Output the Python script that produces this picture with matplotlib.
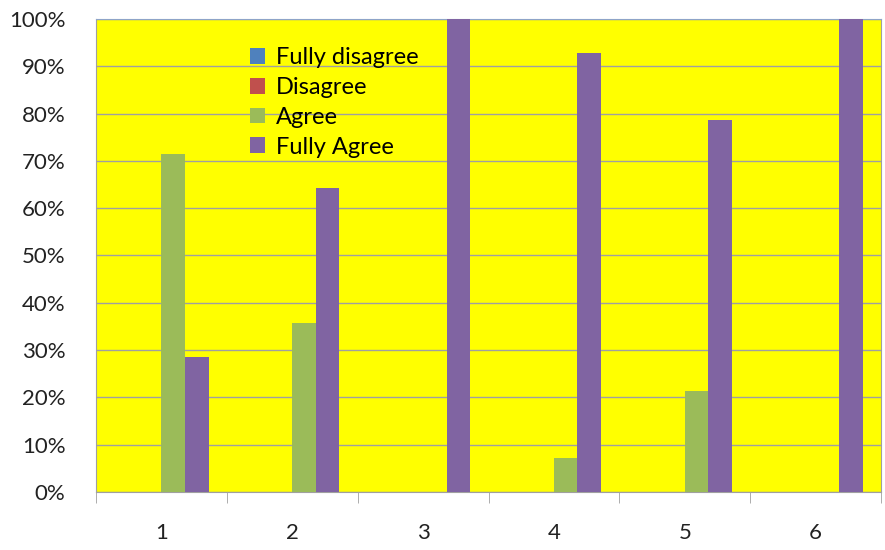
import matplotlib.pyplot as plt
import numpy as np
from matplotlib.ticker import FixedLocator, PercentFormatter

# Survey answers per question (share of respondents)
questions = ['1', '2', '3', '4', '5', '6']
series = ['Fully disagree', 'Disagree', 'Agree', 'Fully Agree']
fully_disagree = [0.0, 0.0, 0.0, 0.0, 0.0, 0.0]
disagree = [0.0, 0.0, 0.0, 0.0, 0.0, 0.0]
agree = [0.714, 0.357, 0.0, 0.071, 0.214, 0.0]
fully_agree = [0.286, 0.643, 1.0, 0.929, 0.786, 1.0]
colors = ['#4F81BD', '#C0504D', '#9BBB59', '#8064A2']

plt.rcParams['font.family'] = ['Lato', 'DejaVu Sans']

fig = plt.figure(figsize=(8.85, 5.5), dpi=100)
ax = fig.add_axes([0.1085, 0.1055, 0.887, 0.86])
ax.set_facecolor('#FFFF00')

x = np.arange(len(questions))
width = 0.18
values = [fully_disagree, disagree, agree, fully_agree]
for i, (name, vals) in enumerate(zip(series, values)):
    ax.bar(x + (i - 1.5) * width, vals, width, color=colors[i], label=name,
           zorder=3, edgecolor='none')

ax.set_xlim(-0.5, len(questions) - 0.5)
ax.set_ylim(0, 1)
ax.yaxis.set_major_locator(FixedLocator(np.arange(0, 1.01, 0.1)))
ax.yaxis.set_major_formatter(PercentFormatter(1.0, decimals=0))
ax.grid(axis='y', color='#A0A0A0', linewidth=1, zorder=1)

ax.set_xticks(x)
ax.set_xticklabels(questions)
ax.set_xticks(np.arange(-0.5, len(questions), 1), minor=True)
ax.tick_params(axis='x', which='major', length=0, pad=22, labelsize=16, colors='#222222')
ax.tick_params(axis='x', which='minor', length=8, direction='out', color='#A0A0A0')
ax.tick_params(axis='y', length=0, pad=22, labelsize=16, colors='#222222')

for side in ['left', 'bottom', 'right']:
    ax.spines[side].set_color('#A0A0A0')
ax.spines['top'].set_color('#8EA4C8')

ax.legend(loc='upper left', bbox_to_anchor=(0.184, 0.96), frameon=False,
          fontsize=17, handlelength=0.65, handleheight=0.65, handletextpad=0.45,
          labelspacing=0.37, borderaxespad=0)

plt.savefig('out.png', dpi=100)
